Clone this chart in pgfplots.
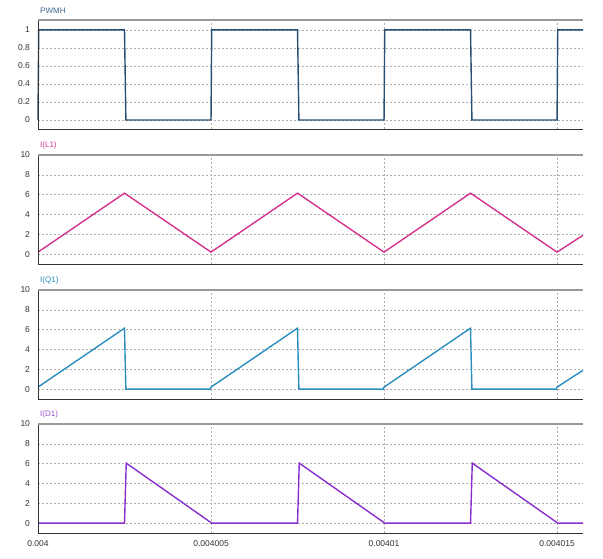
\documentclass[border=0pt]{standalone}
\usepackage{pgfplots}
\pgfplotsset{compat=1.18}
\usepackage{fontspec}
\setmainfont{Liberation Sans}
\definecolor{cPW}{HTML}{284F72}
\definecolor{cPWt}{HTML}{3C6890}
\definecolor{cL}{HTML}{D4338C}
\definecolor{cQ}{HTML}{2A8EBE}
\definecolor{cD}{HTML}{8A2ECF}
\definecolor{cDt}{HTML}{9A50D8}
\pgfplotsset{
  panel/.style={
    scale only axis, width=545pt, height=109pt, anchor=north west,
    xmin=0, xmax=15.75, clip=false,
    axis line style={draw=none},
    xtick={0,5,10,15}, xticklabels={},
    major tick length=0pt,
    grid=major,
    major grid style={black!32, dash pattern=on 2pt off 2pt, line width=0.6pt},
    tick label style={font=\fontsize{8.5}{10}\selectfont, text=black!80},
    yticklabel style={xshift=-4.5pt},
    xticklabel style={yshift=-4pt},
    /pgf/number format/assume math mode=true,
    every axis title shift=0pt,
    title style={at={(0,1)}, anchor=south west, font=\fontsize{8}{9}\selectfont, yshift=6pt, xshift=2pt, inner sep=0pt},
  },
}
\newcommand{\panelframe}{%
  \draw[black!80, line width=0.8pt] (rel axis cs:0,1) -- (rel axis cs:0,0) -- (rel axis cs:1,0);
  \draw[black!40, line width=1.6pt] (rel axis cs:0,1) -- (rel axis cs:1,1);
}
\begin{document}
\begin{tikzpicture}
\useasboundingbox (0,0) rectangle (603pt,-558pt);
% PWMH
\begin{axis}[panel, at={(38pt,-20pt)}, ymin=-0.1, ymax=1.11,
  ytick={0,0.2,0.4,0.6,0.8,1},
  yticklabels={0,0.2,0.4,0.6,0.8,1},
  title={\color{cPWt}PWMH}]
\addplot[cPW, line width=1.4pt] coordinates {
 (0,0) (0.02,1) (2.5,1) (2.52,0.5) (2.54,0) (5,0) (5.02,1) (7.5,1) (7.52,0.5) (7.54,0)
 (10,0) (10.02,1) (12.5,1) (12.52,0.5) (12.54,0) (15,0) (15.02,1) (15.75,1)};
\panelframe
\end{axis}
% I(L1)
\begin{axis}[panel, at={(38pt,-155pt)}, ymin=-1, ymax=10,
  ytick={0,2,4,6,8,10},
  title={\color{cL}I(L1)}]
\addplot[cL, line width=1.4pt] coordinates {
 (0,0.2) (2.5,6.15) (5,0.2) (7.5,6.15) (10,0.2) (12.5,6.15) (15,0.2) (15.75,1.9)};
\panelframe
\end{axis}
% I(Q1)
\begin{axis}[panel, at={(38pt,-290pt)}, ymin=-1, ymax=10,
  ytick={0,2,4,6,8,10},
  title={\color{cQ}I(Q1)}]
\addplot[cQ, line width=1.4pt] coordinates {
 (0,0.2) (2.5,6.15) (2.52,2.8) (2.54,0) (4.98,0) (5,0.2) (7.5,6.15) (7.52,2.8) (7.54,0)
 (9.98,0) (10,0.2) (12.5,6.15) (12.52,2.8) (12.54,0) (14.98,0) (15,0.2) (15.75,1.9)};
\panelframe
\end{axis}
% I(D1)
\begin{axis}[panel, at={(38pt,-424pt)}, ymin=-1, ymax=10,
  ytick={0,2,4,6,8,10},
  xticklabels={0.004,0.004005,0.00401,0.004015},
  title={\color{cDt}I(D1)}]
\addplot[cD, line width=1.4pt] coordinates {
 (0,0) (2.5,0) (2.55,6.05) (5,0.05) (5.02,0) (7.5,0) (7.55,6.05) (10,0.05) (10.02,0)
 (12.5,0) (12.55,6.05) (15,0.05) (15.02,0) (15.75,0)};
\panelframe
\end{axis}
\end{tikzpicture}
\end{document}
